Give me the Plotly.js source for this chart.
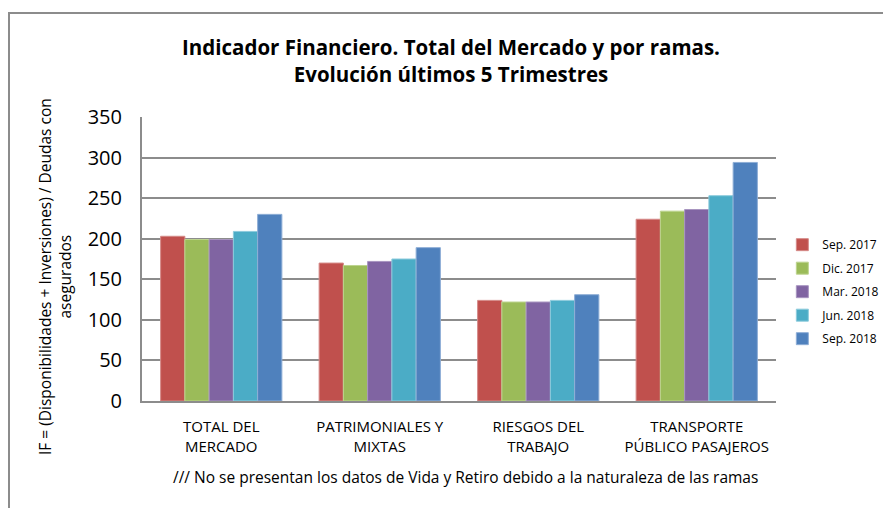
<!DOCTYPE html>
<html>
<head>
<meta charset="utf-8">
<script src="https://cdn.plot.ly/plotly-3.0.1.min.js"></script>
<style>
html,body{margin:0;padding:0;background:#fff;}
#wrap{position:relative;width:883px;height:508px;overflow:hidden;}
#frame{position:absolute;left:8px;top:12px;width:900px;height:520px;border-left:2px solid #8c8c8c;border-top:2px solid #8c8c8c;pointer-events:none;}
#chart{position:absolute;left:0;top:0;width:883px;height:508px;}
</style>
</head>
<body>
<div id="wrap"><div id="chart"></div><div id="frame"></div></div>
<script>
const categories = ["TOTAL DEL<br>MERCADO", "PATRIMONIALES Y<br>MIXTAS", "RIESGOS DEL<br>TRABAJO", "TRANSPORTE<br>PÚBLICO PASAJEROS"];
const seriesNames = ["Sep. 2017", "Dic. 2017", "Mar. 2018", "Jun. 2018", "Sep. 2018"];
const sep2017 = [203, 170, 124, 224];
const dic2017 = [199, 167, 122, 234];
const mar2018 = [199, 172, 122, 236];
const jun2018 = [209, 175, 124, 253];
const sep2018 = [230, 189, 131, 294];
const yTicks = [0, 50, 100, 150, 200, 250, 300, 350];
const colors = ["#C0504D", "#9BBB59", "#8064A2", "#4BACC6", "#4F81BD"];
const lineColors = ["#d58a88", "#bdd48f", "#a895c0", "#8ccbdc", "#8eaed6"];

const values = [sep2017, dic2017, mar2018, jun2018, sep2018];
const FONT = "'Open Sans', 'Noto Sans', sans-serif";

const traces = values.map((v, i) => ({
  type: "bar",
  name: seriesNames[i],
  legendgroup: "g" + i,
  x: categories,
  y: v,
  marker: {color: colors[i], line: {color: lineColors[i], width: 1}},
  hoverinfo: "x+y+name"
}));

const layout = {
  width: 883, height: 508,
  margin: {l: 142, r: 107, t: 117, b: 107, autoexpand: false},
  paper_bgcolor: "#ffffff",
  plot_bgcolor: "#ffffff",
  barmode: "group",
  bargap: 0.235,
  bargroupgap: 0,
  font: {family: FONT, color: "#000"},
  title: {
    text: "<b>Indicador Financiero. Total del Mercado y por ramas.<br>Evolución últimos 5 Trimestres</b>",
    font: {size: 20.5, family: FONT, color: "#000"},
    x: 451 / 883, xanchor: "center", xref: "container",
    y: 0.891, yanchor: "middle"
  },
  xaxis: {
    type: "category",
    showline: true, linecolor: "#8c8c8c", linewidth: 2,
    ticks: "", showgrid: false,
    tickfont: {size: 15, family: FONT, color: "#000"},
    ticklabelstandoff: 11,
    automargin: false
  },
  yaxis: {
    range: [0, 350],
    tickvals: yTicks,
    ticktext: yTicks.map(String),
    showline: true, linecolor: "#8c8c8c", linewidth: 2,
    showgrid: true, gridcolor: "#8c8c8c", gridwidth: 2,
    ticks: "", ticklen: 0,
    tickfont: {size: 20, family: FONT, color: "#000"},
    ticklabelstandoff: 14,
    zeroline: false,
    automargin: false
  },
  legend: {
    x: 1.01, xanchor: "left",
    y: 0.385, yanchor: "middle",
    font: {size: 12, family: FONT, color: "#000"},
    itemwidth: 30,
    tracegroupgap: 4.5,
    bgcolor: "rgba(0,0,0,0)"
  },
  annotations: [
    {
      text: "IF = (Disponibilidades + Inversiones) / Deudas con<br>asegurados",
      textangle: -90,
      xref: "paper", yref: "paper",
      x: (55 - 142) / 634, y: (401 - 277) / 284,
      xanchor: "center", yanchor: "middle",
      showarrow: false,
      font: {size: 15.5, family: FONT, color: "#000"}
    },
    {
      text: "/// No se presentan los datos de Vida y Retiro debido a la naturaleza de las ramas",
      xref: "paper", yref: "paper",
      x: (465 - 142) / 634, y: (401 - 477) / 284,
      xanchor: "center", yanchor: "middle",
      showarrow: false,
      font: {size: 15.5, family: FONT, color: "#000"}
    }
  ],
  showlegend: true
};

Plotly.newPlot("chart", traces, layout, {displayModeBar: false, staticPlot: true});
</script>
</body>
</html>
